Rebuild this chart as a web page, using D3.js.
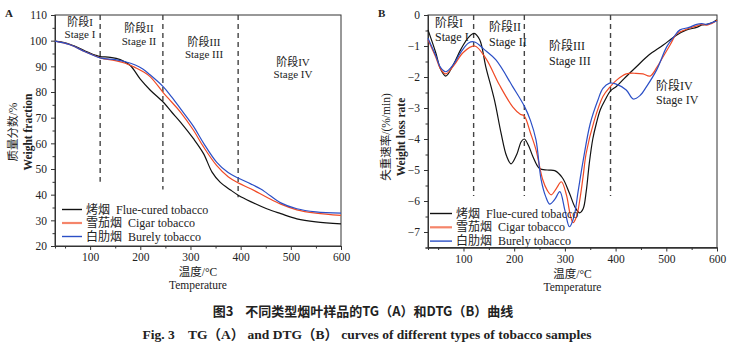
<!DOCTYPE html>
<html>
<head>
<meta charset="utf-8">
<script src="https://cdn.jsdelivr.net/npm/d3@7"></script>
<style>
  body { margin: 0; background: #fff; }
  svg text { font-family: "Liberation Serif", "Noto Sans CJK SC", serif; fill: #222; white-space: pre; }
</style>
</head>
<body>
<svg id="chart" width="729" height="347"></svg>
<script>
// series names
const seriesNames = ["烤烟  Flue-cured tobacco", "雪茄烟  Cigar tobacco", "白肋烟  Burely tobacco"];
const seriesColors = ["#111111", "#f04a26", "#2b4fc6"];

// TG (weight fraction, %)
const tgFlue = [[30,99.8],[50,99.2],[70,97.8],[90,96],[110,94.4],[120,93.8],[140,93.5],[160,92.6],[180,90.3],[200,85],[220,80.7],[246,76],[262,72.3],[280,68.3],[306,61.8],[326,56],[343,48.8],[359,44.9],[380,41.8],[396,39.7],[420,37.3],[452,34.5],[480,32.6],[512,30.6],[550,29.4],[600,28.6]];
const tgCigar = [[30,99.8],[60,98.4],[90,95.7],[120,93.3],[150,92.2],[170,91.2],[190,89.5],[205,88],[220,85.9],[246,79.7],[262,76.2],[280,72.2],[306,65.1],[326,58.6],[352,51.4],[375,47],[396,44.5],[420,42.3],[452,39],[480,36.3],[512,34.1],[550,32.8],[600,31.9]];
const tgBurley = [[30,99.8],[60,98.4],[90,95.7],[120,93.3],[150,92.6],[170,91.8],[190,90.5],[205,89],[220,86.6],[246,82],[262,78.2],[280,73.5],[306,66.6],[326,60.1],[352,52.7],[375,48.6],[396,46.4],[420,44.2],[440,42.2],[452,40.6],[480,36.8],[512,34.5],[550,33.3],[600,32.8]];

// DTG (weight loss rate, %/min)
const dtgFlue = [[30,-0.48],[45,-1.2],[55,-1.75],[65,-1.97],[80,-1.6],[95,-1.1],[110,-0.72],[121,-0.59],[132,-0.8],[144,-1.67],[161,-2.74],[174,-3.8],[185,-4.55],[194,-4.8],[205,-4.5],[214,-4.08],[220,-4.0],[228,-4.2],[237,-4.57],[250,-4.95],[265,-5.0],[280,-5.02],[295,-5.25],[309,-5.75],[320,-6.2],[329,-6.38],[336,-6.25],[342,-5.7],[348,-4.8],[355,-4.0],[362,-3.5],[370,-3.05],[380,-2.72],[390,-2.45],[402,-2.3],[420,-2.0],[441,-1.67],[465,-1.3],[494,-0.97],[520,-0.65],[540,-0.48],[560,-0.4],[570,-0.32],[580,-0.3],[590,-0.25],[600,-0.15]];
const dtgCigar = [[30,-0.8],[45,-1.35],[55,-1.75],[65,-1.9],[80,-1.65],[100,-1.2],[122,-1.0],[144,-1.4],[171,-2.26],[197,-2.96],[212,-3.2],[220,-3.26],[232,-3.8],[243,-4.35],[256,-5.3],[265,-5.65],[273,-5.8],[283,-5.6],[293,-5.38],[303,-5.8],[310,-6.4],[316,-6.7],[323,-6.5],[330,-5.9],[336,-5.2],[342,-4.46],[358,-3.4],[375,-2.63],[390,-2.3],[402,-2.1],[421,-1.9],[440,-1.88],[454,-1.9],[468,-1.97],[481,-1.7],[494,-1.34],[508,-0.95],[521,-0.6],[540,-0.46],[560,-0.35],[570,-0.3],[580,-0.33],[590,-0.27],[600,-0.18]];
const dtgBurley = [[30,-0.75],[45,-1.3],[55,-1.7],[65,-1.83],[80,-1.6],[95,-1.2],[110,-0.9],[122,-0.87],[140,-1.1],[164,-1.45],[197,-2.31],[220,-2.94],[232,-3.4],[243,-4.03],[253,-5.3],[262,-5.85],[270,-6.1],[280,-5.95],[290,-5.7],[300,-6.3],[309,-6.83],[318,-6.5],[326,-5.7],[336,-4.7],[350,-3.5],[365,-2.75],[375,-2.37],[388,-2.2],[400,-2.22],[421,-2.42],[435,-2.71],[448,-2.6],[461,-2.31],[481,-1.77],[501,-1.02],[515,-0.7],[527,-0.48],[545,-0.4],[560,-0.3],[570,-0.28],[580,-0.3],[590,-0.25],[600,-0.18]];

// axis ticks
const xTicks = [100, 200, 300, 400, 500, 600];
const tgTicks = [20, 30, 40, 50, 60, 70, 80, 90, 100, 110];
const dtgTicks = [-7, -6, -5, -4, -3, -2, -1, 0];

// stage boundaries
const tgStages = [120, 245, 395];
const dtgStages = [120, 220, 390];

const svg = d3.select("#chart");

function drawPanel(opt) {
  const x = d3.scaleLinear().domain([30, 600]).range([opt.left, opt.right]);
  const y = d3.scaleLinear().domain(opt.yDomain).range([opt.bottom, opt.top]);
  const g = svg.append("g");

  // frame
  g.append("rect")
    .attr("x", opt.left).attr("y", opt.top)
    .attr("width", opt.right - opt.left).attr("height", opt.bottom - opt.top)
    .attr("fill", "none").attr("stroke", "#333").attr("stroke-width", 1);

  // axes
  g.append("g").attr("transform", "translate(0," + opt.bottom + ")")
    .call(d3.axisBottom(x).tickValues(xTicks).tickSize(4).tickSizeOuter(0));
  g.append("g").attr("transform", "translate(0," + opt.bottom + ")")
    .call(d3.axisBottom(x).tickValues(d3.range(50, 600, 100)).tickSize(2.5).tickFormat(""));
  const yAxis = g.append("g").attr("transform", "translate(" + opt.left + ",0)")
    .call(d3.axisLeft(y).tickValues(opt.yTicks).tickSize(4).tickSizeOuter(0).tickFormat(opt.fmt));
  g.append("g").attr("transform", "translate(" + opt.left + ",0)")
    .call(d3.axisLeft(y).tickValues(opt.minor).tickSize(2.5).tickFormat(""));
  g.selectAll(".domain").attr("stroke", "#333");
  g.selectAll(".tick line").attr("stroke", "#333");
  g.selectAll(".tick text").style("font-size", "11.5px").attr("fill", "#222");
  yAxis.selectAll(".tick text").attr("dx", "-1");

  // stage dashed lines
  opt.stages.forEach((s, i) => {
    g.append("line")
      .attr("x1", x(s)).attr("x2", x(s))
      .attr("y1", opt.top).attr("y2", y(opt.stageEnds[i]))
      .attr("stroke", "#444").attr("stroke-width", 1.4)
      .attr("stroke-dasharray", "5,4");
  });

  // curves
  const line = d3.line().x(d => x(d[0])).y(d => y(d[1])).curve(d3.curveCatmullRom.alpha(0.5));
  opt.series.forEach((s, i) => {
    g.append("path").datum(s)
      .attr("d", line).attr("fill", "none")
      .attr("stroke", seriesColors[i]).attr("stroke-width", 1.2);
  });

  // stage labels
  opt.labels.forEach(l => {
    l.lines.forEach((t, j) => {
      g.append("text").attr("x", l.x).attr("y", l.y + j * l.gap)
        .attr("text-anchor", l.anchor).style("font-size", opt.stageFont).text(t);
    });
  });

  // legend
  seriesNames.forEach((n, i) => {
    const ly = opt.legend.y + i * opt.legend.gap;
    g.append("line")
      .attr("x1", opt.legend.x).attr("x2", opt.legend.x + opt.legend.len)
      .attr("y1", ly).attr("y2", ly)
      .attr("stroke", i === 1 ? "#f5856a" : seriesColors[i])
      .attr("stroke-width", i === 1 ? 2.2 : 1.4);
    g.append("text").attr("x", opt.legend.x + opt.legend.len + 4).attr("y", ly + 4)
      .style("font-size", "12px").text(n);
  });

  // axis titles
  const cx = (opt.left + opt.right) / 2;
  g.append("text").attr("x", cx).attr("y", opt.bottom + 30).attr("text-anchor", "middle")
    .style("font-size", "11.5px").text("温度/°C");
  g.append("text").attr("x", cx).attr("y", opt.bottom + 43).attr("text-anchor", "middle")
    .style("font-size", "11.5px").text("Temperature");
  const cy = opt.yTitleY;
  g.append("text").attr("transform", "translate(" + opt.yTitleX1 + "," + cy + ") rotate(-90)")
    .attr("text-anchor", "middle").style("font-size", "11.5px").text(opt.yTitle1);
  g.append("text").attr("transform", "translate(" + opt.yTitleX2 + "," + cy + ") rotate(-90)")
    .attr("text-anchor", "middle").style("font-size", "11.5px").style("font-weight", "bold").text(opt.yTitle2);

  // panel letter
  g.append("text").attr("x", opt.letterX).attr("y", 17)
    .style("font-size", "11px").style("font-weight", "bold").attr("fill", "#2a3670").text(opt.letter);
}

drawPanel({
  left: 55, right: 341, top: 15, bottom: 246,
  yDomain: [20, 110], yTicks: tgTicks, minor: d3.range(25, 110, 10), fmt: d3.format("d"),
  stages: tgStages, stageEnds: [45, 42, 39],
  series: [tgFlue, tgCigar, tgBurley],
  stageFont: "11px",
  labels: [
    { x: 80, y: 26, gap: 12, anchor: "middle", lines: ["阶段I", "Stage I"] },
    { x: 139, y: 32, gap: 13, anchor: "middle", lines: ["阶段II", "Stage II"] },
    { x: 204, y: 46, gap: 12, anchor: "middle", lines: ["阶段III", "Stage III"] },
    { x: 293, y: 66, gap: 12, anchor: "middle", lines: ["阶段IV", "Stage IV"] }
  ],
  legend: { x: 62, y: 209.5, gap: 13.5, len: 20 },
  yTitle1: "质量分数/%", yTitle2: "Weight fraction", yTitleX1: 17, yTitleX2: 32, yTitleY: 132,
  letter: "A", letterX: 5
});

drawPanel({
  left: 428, right: 717, top: 15, bottom: 247.5,
  yDomain: [-7.5, 0], yTicks: dtgTicks, minor: d3.range(-7.5, 0, 1), fmt: d3.format("d"),
  stages: dtgStages, stageEnds: [-5.84, -5.84, -5.84],
  series: [dtgFlue, dtgCigar, dtgBurley],
  stageFont: "12px",
  labels: [
    { x: 435, y: 27, gap: 14, anchor: "start", lines: ["阶段I", "Stage I"] },
    { x: 489, y: 31, gap: 15, anchor: "start", lines: ["阶段II", "Stage II"] },
    { x: 549, y: 50, gap: 15, anchor: "start", lines: ["阶段III", "Stage III"] },
    { x: 656, y: 90, gap: 13.5, anchor: "start", lines: ["阶段IV", "Stage IV"] }
  ],
  legend: { x: 430, y: 213.5, gap: 13.8, len: 22 },
  yTitle1: "失重速率/(%/min)", yTitle2: "Weight loss rate", yTitleX1: 390, yTitleX2: 405, yTitleY: 137,
  letter: "B", letterX: 378
});

// figure caption
svg.append("text").attr("x", 363).attr("y", 316).attr("text-anchor", "middle")
  .style("font-size", "13px").style("font-weight", "bold").attr("fill", "#222")
  .style("font-family", "'Noto Sans CJK SC', sans-serif")
  .text("图3    不同类型烟叶样品的TG（A）和DTG（B）曲线");
svg.append("text").attr("x", 367).attr("y", 339).attr("text-anchor", "middle")
  .style("font-size", "13.5px").style("font-weight", "bold").attr("fill", "#222")
  .text("Fig. 3    TG（A） and DTG（B） curves of different types of tobacco samples");
</script>
</body>
</html>
